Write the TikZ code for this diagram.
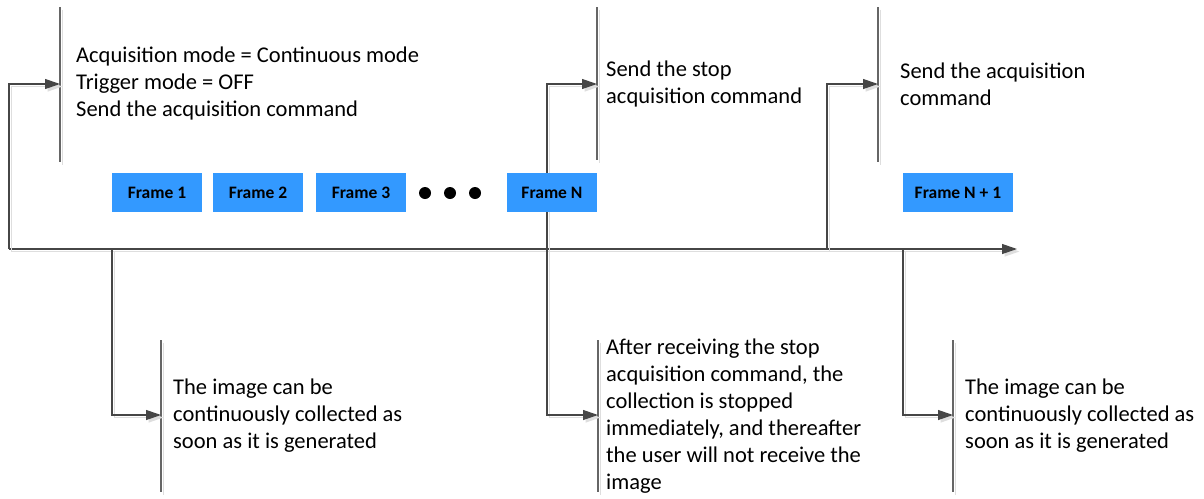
\documentclass[tikz,border=0pt]{standalone}
\usepackage{fontspec}
\setmainfont{Carlito}
\usetikzlibrary{arrows.meta}
\definecolor{frameblue}{RGB}{51,153,255}
\definecolor{linegray}{RGB}{70,70,70}
\begin{document}
\begin{tikzpicture}[x=1pt,y=-1pt,
  shadowed/.style={preaction={draw=black!13, line width=1.4pt, transform canvas={xshift=2.5pt,yshift=-2.5pt}}},
  conn/.style={draw=linegray, line width=1.2pt, -{Triangle[length=15pt,width=10pt]}, shadowed},
  bar/.style={draw=black!60, line width=1.3pt, shadowed},
  framebox/.style={fill=frameblue, minimum width=90pt, minimum height=39pt, inner sep=0pt, font=\fontsize{17.5}{20}\selectfont\bfseries},
  txt/.style={anchor=west, align=left, inner sep=0pt, font=\fontsize{22.5}{27}\selectfont},
  dot/.style={circle, fill=black, minimum size=12pt, inner sep=0pt}]
\useasboundingbox (0,0) rectangle (1204,498);

% coordinates
\coordinate (t0) at (9,249);
\coordinate (tend) at (1017,249);
\coordinate (b1top) at (60,7);   \coordinate (b1bot) at (60,162); \coordinate (b1in) at (60,84);
\coordinate (b2top) at (597,7);  \coordinate (b2bot) at (597,160); \coordinate (b2in) at (597,84);
\coordinate (b3top) at (878,7);  \coordinate (b3bot) at (878,162); \coordinate (b3in) at (878,84);
\coordinate (b4top) at (161,340); \coordinate (b4bot) at (161,492); \coordinate (b4in) at (161,415);
\coordinate (b5top) at (598,340); \coordinate (b5bot) at (598,492); \coordinate (b5in) at (598,415);
\coordinate (b6top) at (953,340); \coordinate (b6bot) at (953,492); \coordinate (b6in) at (953,415);
\coordinate (s1) at (112,249);
\coordinate (s2) at (547,249);
\coordinate (s3) at (827,249);
\coordinate (s4) at (903,249);

% brackets
\draw[bar] (b1top) -- (b1bot);
\draw[bar] (b2top) -- (b2bot);
\draw[bar] (b3top) -- (b3bot);
\draw[bar] (b4top) -- (b4bot);
\draw[bar] (b5top) -- (b5bot);
\draw[bar] (b6top) -- (b6bot);

% connectors
\draw[conn] (t0) -- (tend);
\draw[conn] (t0) |- (b1in);
\draw[conn] (s1) |- (b4in);
\draw[conn] (s2) |- (b2in);
\draw[conn] (s2) |- (b5in);
\draw[conn] (s3) |- (b3in);
\draw[conn] (s4) |- (b6in);

% frames
\node[framebox] (f1) at (157,192.5) {Frame 1};
\node[framebox] (f2) at (258,192.5) {Frame 2};
\node[framebox] (f3) at (361,192.5) {Frame 3};
\node[framebox] (fn) at (552,192.5) {Frame N};
\node[framebox, minimum width=110pt] (fn1) at (958,192.5) {Frame N + 1};

\node[dot] (d1) at (425,193) {};
\node[dot] (d2) at (450,193) {};
\node[dot] (d3) at (475,193) {};

% texts
\node[txt] (tx1) at (76,83) {Acquisition mode = Continuous mode\\Trigger mode = OFF\\Send the acquisition command};
\node[txt] (tx2) at (606,84) {Send the stop\\acquisition command};
\node[txt] (tx3) at (900,84) {Send the acquisition\\command};
\node[txt] (tx4) at (173,416) {The image can be\\continuously collected as\\soon as it is generated};
\node[txt] (tx5) at (606,416.5) {After receiving the stop\\acquisition command, the\\collection is stopped\\immediately, and thereafter\\the user will not receive the\\image};
\node[txt] (tx6) at (965,416) {The image can be\\continuously collected as\\soon as it is generated};
\end{tikzpicture}
\end{document}
